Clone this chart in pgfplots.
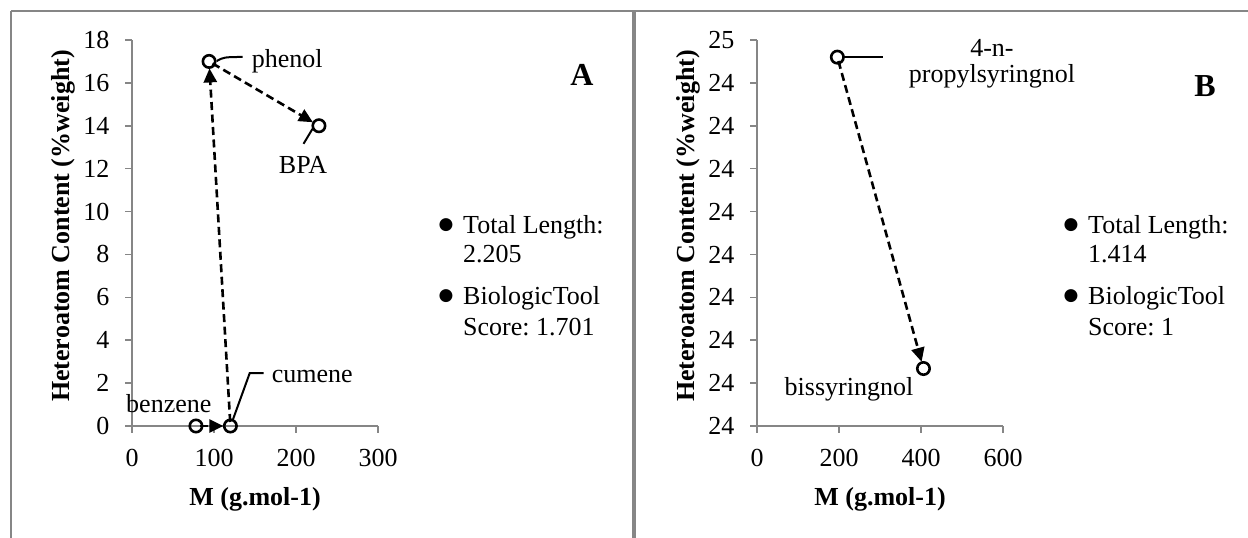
\documentclass[border=0pt]{standalone}
\usepackage{fontspec}
\setmainfont{Liberation Serif}
\newfontfamily\symfont{DejaVu Sans}
\usepackage{pgfplots}
\pgfplotsset{compat=1.18}
\usetikzlibrary{arrows.meta}
\definecolor{axgray}{RGB}{134,134,134}
\newcommand{\bigfont}{\fontsize{26bp}{31bp}\selectfont}
\tikzset{lead/.style={black, line width=2bp}}
\frenchspacing
\pgfplotsset{
  exstyle/.style={
    scale only axis, width=246bp, height=386bp,
    anchor=south west,
    axis x line*=bottom, axis y line*=left,
    axis line style={axgray, line width=1.6bp, -},
    tick style={axgray, line width=1.6bp},
    tick align=outside, major tick length=7bp,
    /pgf/number format/assume math mode=true,
    tick label style={font=\bigfont, black},
    xticklabel style={yshift=-13bp},
    yticklabel style={xshift=-12bp},
    label style={font=\bfseries\bigfont},
    clip=false,
    xlabel={M (g.mol-1)},
    ylabel={Heteroatom Content (\%weight)},
    xlabel style={at={(axis description cs:0.5,-0.207)}, anchor=base},
    ylabel style={at={(axis description cs:-0.28,0.518)}, anchor=center},
  },
  arr/.style={black, line width=2.6bp, dash pattern=on 8bp off 4.5bp,
    shorten >=7bp, shorten <=4bp, -{Triangle[length=14bp,width=13bp]}},
  pts/.style={only marks, mark=o, mark size=6.2bp, mark options={line width=2.6bp, black, solid}},
}
\begin{document}
\begin{tikzpicture}[x=1bp, y=1bp, font=\bigfont]
\path[use as bounding box] (0,0) rectangle (1248,538);
% frame
\draw[axgray, line width=1.8bp] (11,0) -- (11,527);
\draw[axgray, line width=1.3bp] (11,527) -- (1248,527);
\fill[axgray] (632,0) rectangle (636,527.6);

% ---------------- Panel A ----------------
\begin{axis}[exstyle, at={(132bp,112bp)},
  xmin=0, xmax=300, ymin=0, ymax=18,
  xtick={0,100,200,300}, ytick={0,2,...,18}]
\addplot[arr] coordinates {(78,0) (120,0)};
\addplot[arr] coordinates {(120,0) (94,17)};
\addplot[arr] coordinates {(94,17) (228,14)};
\addplot[pts] coordinates {(78,0) (120,0) (94,17) (228,14)};
\draw[lead] (axis cs:103.4,17.02) .. controls (axis cs:112,17.2) .. (axis cs:135,17.21);
\node[anchor=base west, inner sep=0pt] at (axis cs:146,16.70) {phenol};
\draw[lead] (axis cs:220.2,13.86) -- (axis cs:209.2,13.16);
\node[anchor=base, inner sep=0pt] at (axis cs:208.6,11.77) {BPA};
\draw[lead] (axis cs:122.9,0.28) -- (axis cs:143.6,2.47) -- (axis cs:160.6,2.47);
\node[anchor=base west, inner sep=0pt] at (axis cs:170.3,2.05) {cumene};
\node[anchor=base, inner sep=0pt] at (axis cs:44.9,0.65) {benzene};
\end{axis}

% ---------------- Panel B ----------------
\begin{axis}[exstyle, at={(757bp,112bp)},
  xmin=0, xmax=600, ymin=24.05, ymax=24.5,
  xtick={0,200,400,600},
  ytick={24.05,24.10,24.15,24.20,24.25,24.30,24.35,24.40,24.45,24.50},
  yticklabels={24,24,24,24,24,24,24,24,24,25}]
\addplot[arr] coordinates {(196,24.48) (406,24.117)};
\addplot[pts] coordinates {(196,24.48) (406,24.117)};
\draw[lead] (axis cs:212,24.48) -- (axis cs:307,24.48);
\node[anchor=base, inner sep=0pt] at (axis cs:573,24.481) {4-n-};
\node[anchor=base, inner sep=0pt] at (axis cs:573,24.450) {propylsyringnol};
\node[anchor=base, inner sep=0pt] at (axis cs:224.4,24.086) {bissyringnol};
\end{axis}

% panel letters
\node[anchor=base, inner sep=0pt, font=\bfseries\fontsize{32bp}{36bp}\selectfont] at (582,452) {A};
\node[anchor=base, inner sep=0pt, font=\bfseries\fontsize{32bp}{36bp}\selectfont] at (1205,441) {B};

% legends
\foreach \bx/\tx/\la/\lb/\lc/\ld in {446/463/Total Length:/2.205/BiologicTool/Score: 1.701,
                                     1071/1088/Total Length:/1.414/BiologicTool/Score: 1}{
  \node[inner sep=0pt, font=\symfont\fontsize{17bp}{20bp}\selectfont] at (\bx,313) {●};
  \node[anchor=base west, inner sep=0pt] at (\tx,304) {\la};
  \node[anchor=base west, inner sep=0pt] at (\tx,275) {\lb};
  \node[inner sep=0pt, font=\symfont\fontsize{17bp}{20bp}\selectfont] at (\bx,242) {●};
  \node[anchor=base west, inner sep=0pt] at (\tx,233) {\lc};
  \node[anchor=base west, inner sep=0pt] at (\tx,202) {\ld};
}
\end{tikzpicture}
\end{document}
